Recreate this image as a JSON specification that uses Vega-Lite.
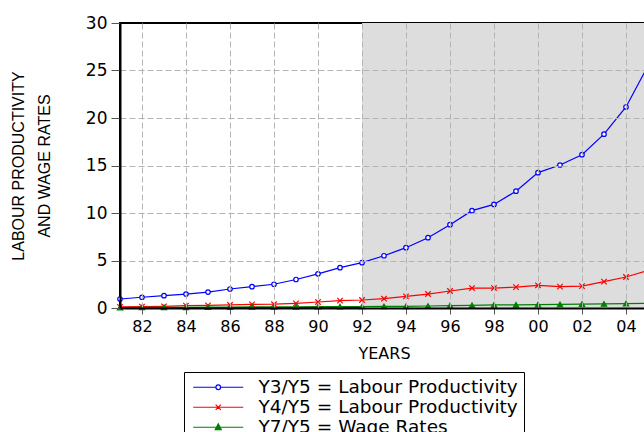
{
  "$schema": "https://vega.github.io/schema/vega-lite/v6.json",
  "width": 528,
  "height": 285,
  "autosize": {"type": "none"},
  "padding": {"left": 120, "top": 23, "right": 0, "bottom": 124},
  "background": "white",
  "config": {
    "view": {"stroke": "black", "strokeWidth": 2},
    "font": "DejaVu Sans",
    "axis": {
      "domainColor": "black",
      "domainWidth": 2,
      "tickColor": "#555555",
      "labelColor": "black",
      "titleColor": "black",
      "labelFont": "DejaVu Sans",
      "labelFontSize": 16,
      "titleFont": "DejaVu Sans",
      "titleFontWeight": "normal",
      "titleFontSize": 16,
      "gridColor": "#b4b4b4",
      "gridDash": [6, 3],
      "gridWidth": 1
    },
    "axisX": {
      "values": [1981, 1982, 1983, 1984, 1985, 1986, 1987, 1988, 1989, 1990, 1991, 1992, 1993, 1994, 1995, 1996, 1997, 1998, 1999, 2000, 2001, 2002, 2003, 2004, 2005],
      "labelExpr": "datum.value % 2 == 0 ? substring(toString(datum.value), 2) : ''",
      "gridOpacity": {"condition": {"test": "datum.value % 2 == 1 || datum.value == 1981", "value": 0}, "value": 1},
      "tickSize": 6,
      "labelPadding": 4,
      "labelFlush": false,
      "labelOverlap": false,
      "titleY": 37
    },
    "axisY": {
      "values": [0, 5, 10, 15, 20, 25, 30],
      "gridOpacity": {"condition": {"test": "datum.value == 0 || datum.value == 30", "value": 0}, "value": 1},
      "tickSize": 9,
      "labelPadding": 4,
      "labelFontSize": 17,
      "titleFont": "Liberation Sans",
      "titleFontSize": 16,
      "titleLineHeight": 26,
      "titleX": -94
    }
  },
  "datasets": {
    "shade": [{"start": 1992, "end": 2005}],
    "series": [
      {"year": 1981, "series": "Y3/Y5 = Labour Productivity", "value": 0.95},
      {"year": 1982, "series": "Y3/Y5 = Labour Productivity", "value": 1.13},
      {"year": 1983, "series": "Y3/Y5 = Labour Productivity", "value": 1.3},
      {"year": 1984, "series": "Y3/Y5 = Labour Productivity", "value": 1.47},
      {"year": 1985, "series": "Y3/Y5 = Labour Productivity", "value": 1.68},
      {"year": 1986, "series": "Y3/Y5 = Labour Productivity", "value": 2.0},
      {"year": 1987, "series": "Y3/Y5 = Labour Productivity", "value": 2.25},
      {"year": 1988, "series": "Y3/Y5 = Labour Productivity", "value": 2.5},
      {"year": 1989, "series": "Y3/Y5 = Labour Productivity", "value": 3.0},
      {"year": 1990, "series": "Y3/Y5 = Labour Productivity", "value": 3.6},
      {"year": 1991, "series": "Y3/Y5 = Labour Productivity", "value": 4.25},
      {"year": 1992, "series": "Y3/Y5 = Labour Productivity", "value": 4.77},
      {"year": 1993, "series": "Y3/Y5 = Labour Productivity", "value": 5.5},
      {"year": 1994, "series": "Y3/Y5 = Labour Productivity", "value": 6.35},
      {"year": 1995, "series": "Y3/Y5 = Labour Productivity", "value": 7.4},
      {"year": 1996, "series": "Y3/Y5 = Labour Productivity", "value": 8.77},
      {"year": 1997, "series": "Y3/Y5 = Labour Productivity", "value": 10.25},
      {"year": 1998, "series": "Y3/Y5 = Labour Productivity", "value": 10.9},
      {"year": 1999, "series": "Y3/Y5 = Labour Productivity", "value": 12.3},
      {"year": 2000, "series": "Y3/Y5 = Labour Productivity", "value": 14.25},
      {"year": 2001, "series": "Y3/Y5 = Labour Productivity", "value": 15.05},
      {"year": 2002, "series": "Y3/Y5 = Labour Productivity", "value": 16.14},
      {"year": 2003, "series": "Y3/Y5 = Labour Productivity", "value": 18.3},
      {"year": 2004, "series": "Y3/Y5 = Labour Productivity", "value": 21.16},
      {"year": 2005, "series": "Y3/Y5 = Labour Productivity", "value": 25.5},
      {"year": 1981, "series": "Y4/Y5 = Labour Productivity", "value": 0.12},
      {"year": 1982, "series": "Y4/Y5 = Labour Productivity", "value": 0.14},
      {"year": 1983, "series": "Y4/Y5 = Labour Productivity", "value": 0.18},
      {"year": 1984, "series": "Y4/Y5 = Labour Productivity", "value": 0.25},
      {"year": 1985, "series": "Y4/Y5 = Labour Productivity", "value": 0.27},
      {"year": 1986, "series": "Y4/Y5 = Labour Productivity", "value": 0.32},
      {"year": 1987, "series": "Y4/Y5 = Labour Productivity", "value": 0.38},
      {"year": 1988, "series": "Y4/Y5 = Labour Productivity", "value": 0.4},
      {"year": 1989, "series": "Y4/Y5 = Labour Productivity", "value": 0.49},
      {"year": 1990, "series": "Y4/Y5 = Labour Productivity", "value": 0.63},
      {"year": 1991, "series": "Y4/Y5 = Labour Productivity", "value": 0.77},
      {"year": 1992, "series": "Y4/Y5 = Labour Productivity", "value": 0.84},
      {"year": 1993, "series": "Y4/Y5 = Labour Productivity", "value": 0.98},
      {"year": 1994, "series": "Y4/Y5 = Labour Productivity", "value": 1.23},
      {"year": 1995, "series": "Y4/Y5 = Labour Productivity", "value": 1.47},
      {"year": 1996, "series": "Y4/Y5 = Labour Productivity", "value": 1.79},
      {"year": 1997, "series": "Y4/Y5 = Labour Productivity", "value": 2.1},
      {"year": 1998, "series": "Y4/Y5 = Labour Productivity", "value": 2.1},
      {"year": 1999, "series": "Y4/Y5 = Labour Productivity", "value": 2.2},
      {"year": 2000, "series": "Y4/Y5 = Labour Productivity", "value": 2.39},
      {"year": 2001, "series": "Y4/Y5 = Labour Productivity", "value": 2.25},
      {"year": 2002, "series": "Y4/Y5 = Labour Productivity", "value": 2.3},
      {"year": 2003, "series": "Y4/Y5 = Labour Productivity", "value": 2.77},
      {"year": 2004, "series": "Y4/Y5 = Labour Productivity", "value": 3.26},
      {"year": 2005, "series": "Y4/Y5 = Labour Productivity", "value": 3.95},
      {"year": 1981, "series": "Y7/Y5 = Wage Rates", "value": 0.05},
      {"year": 1982, "series": "Y7/Y5 = Wage Rates", "value": 0.06},
      {"year": 1983, "series": "Y7/Y5 = Wage Rates", "value": 0.07},
      {"year": 1984, "series": "Y7/Y5 = Wage Rates", "value": 0.08},
      {"year": 1985, "series": "Y7/Y5 = Wage Rates", "value": 0.09},
      {"year": 1986, "series": "Y7/Y5 = Wage Rates", "value": 0.1},
      {"year": 1987, "series": "Y7/Y5 = Wage Rates", "value": 0.11},
      {"year": 1988, "series": "Y7/Y5 = Wage Rates", "value": 0.12},
      {"year": 1989, "series": "Y7/Y5 = Wage Rates", "value": 0.13},
      {"year": 1990, "series": "Y7/Y5 = Wage Rates", "value": 0.14},
      {"year": 1991, "series": "Y7/Y5 = Wage Rates", "value": 0.15},
      {"year": 1992, "series": "Y7/Y5 = Wage Rates", "value": 0.16},
      {"year": 1993, "series": "Y7/Y5 = Wage Rates", "value": 0.17},
      {"year": 1994, "series": "Y7/Y5 = Wage Rates", "value": 0.18},
      {"year": 1995, "series": "Y7/Y5 = Wage Rates", "value": 0.21},
      {"year": 1996, "series": "Y7/Y5 = Wage Rates", "value": 0.26},
      {"year": 1997, "series": "Y7/Y5 = Wage Rates", "value": 0.28},
      {"year": 1998, "series": "Y7/Y5 = Wage Rates", "value": 0.32},
      {"year": 1999, "series": "Y7/Y5 = Wage Rates", "value": 0.33},
      {"year": 2000, "series": "Y7/Y5 = Wage Rates", "value": 0.35},
      {"year": 2001, "series": "Y7/Y5 = Wage Rates", "value": 0.38},
      {"year": 2002, "series": "Y7/Y5 = Wage Rates", "value": 0.41},
      {"year": 2003, "series": "Y7/Y5 = Wage Rates", "value": 0.43},
      {"year": 2004, "series": "Y7/Y5 = Wage Rates", "value": 0.46},
      {"year": 2005, "series": "Y7/Y5 = Wage Rates", "value": 0.48}
    ]
  },
  "layer": [
    {
      "data": {"name": "shade"},
      "mark": {"type": "rect", "fill": "#dddddd"},
      "encoding": {
        "x": {"field": "start", "type": "quantitative", "title": "YEARS", "axis": {"zindex": 1}, "scale": {"domain": [1981, 2005], "nice": false, "zero": false}},
        "x2": {"field": "end"}
      }
    },
    {
      "data": {"name": "series"},
      "mark": {"type": "line", "strokeWidth": 1.2},
      "encoding": {
        "x": {"field": "year", "type": "quantitative", "title": "YEARS", "axis": {"zindex": 1}, "scale": {"domain": [1981, 2005], "nice": false, "zero": false}},
        "y": {"field": "value", "type": "quantitative", "title": ["LABOUR PRODUCTIVITY", "AND WAGE RATES"], "axis": {"zindex": 1}, "scale": {"domain": [0, 30], "nice": false}},
        "color": {
          "field": "series",
          "type": "nominal",
          "scale": {"domain": ["Y3/Y5 = Labour Productivity", "Y4/Y5 = Labour Productivity", "Y7/Y5 = Wage Rates"], "range": ["#0000ff", "#ff0000", "#008000"]},
          "legend": {
            "title": null,
            "orient": "none",
            "legendX": 64,
            "legendY": 349,
            "strokeColor": "black",
            "fillColor": "white",
            "padding": 6,
            "labelFont": "DejaVu Sans",
            "labelFontSize": 18.5,
            "labelColor": "black",
            "labelLimit": 400,
            "labelOffset": 50,
            "symbolSize": 100,
            "symbolStrokeWidth": 1.2,
            "rowPadding": 1,
            "encode": {
              "symbols": {
                "update": {
                  "shape": {"signal": "datum.value === 'Y3/Y5 = Labour Productivity' ? 'M-1.2,0L3.34,0M4.26,0L8.8,0M3.34,0A0.46,0.46,0,1,1,4.26,0A0.46,0.46,0,1,1,3.34,0Z' : datum.value === 'Y4/Y5 = Labour Productivity' ? 'M-1.2,0L8.8,0M3.28,-0.52L4.32,0.52M3.28,0.52L4.32,-0.52' : 'M-1.2,0L8.8,0M3.8,-0.7L4.4,0.46L3.2,0.46Z'"},
                  "fill": {"signal": "datum.value === 'Y3/Y5 = Labour Productivity' ? 'white' : datum.value === 'Y4/Y5 = Labour Productivity' ? 'transparent' : '#008000'"}
                }
              }
            }
          }
        }
      }
    },
    {
      "data": {"name": "series"},
      "mark": {"type": "point", "strokeWidth": 1.2, "opacity": 1},
      "encoding": {
        "x": {"field": "year", "type": "quantitative", "title": "YEARS"},
        "y": {"field": "value", "type": "quantitative"},
        "shape": {"condition": [{"test": "datum.series === 'Y3/Y5 = Labour Productivity'", "value": "circle"}, {"test": "datum.series === 'Y4/Y5 = Labour Productivity'", "value": "M-1,-1L1,1M-1,1L1,-1"}], "value": "triangle-up"},
        "stroke": {"condition": [{"test": "datum.series === 'Y3/Y5 = Labour Productivity'", "value": "#0000ff"}, {"test": "datum.series === 'Y4/Y5 = Labour Productivity'", "value": "#ff0000"}], "value": "#008000"},
        "fill": {"condition": [{"test": "datum.series === 'Y3/Y5 = Labour Productivity'", "value": "white"}, {"test": "datum.series === 'Y4/Y5 = Labour Productivity'", "value": "transparent"}], "value": "#008000"},
        "size": {"condition": [{"test": "datum.series === 'Y3/Y5 = Labour Productivity'", "value": 20}, {"test": "datum.series === 'Y4/Y5 = Labour Productivity'", "value": 30}], "value": 28}
      }
    }
  ]
}
